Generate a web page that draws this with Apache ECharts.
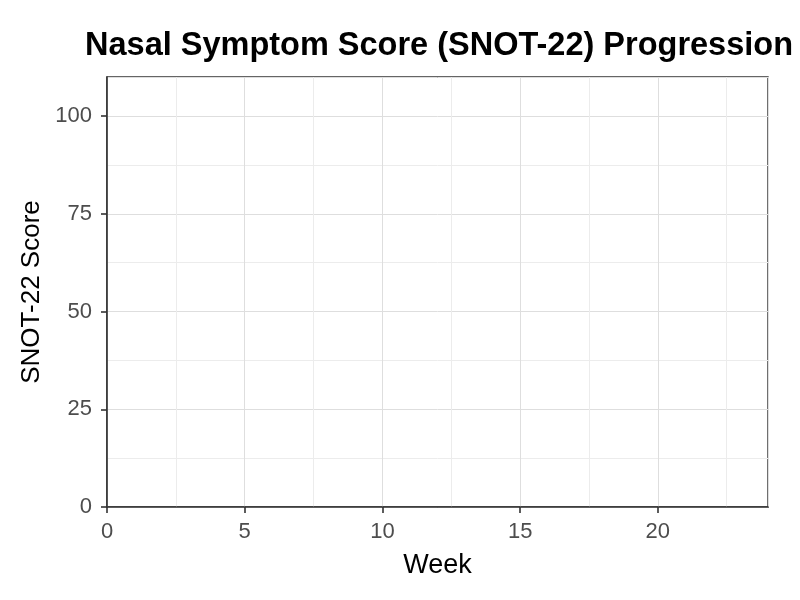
<!DOCTYPE html>
<html>
<head>
<meta charset="utf-8" />
<title>SNOT-22</title>
<script src="https://cdn.jsdelivr.net/npm/echarts@6/dist/echarts.min.js"></script>
</head>
<body style="margin:0">
<div id="main" style="width:800px;height:600px;"></div>
<script type="text/javascript">
// the reference shows an empty panel: no observations plotted
var weeks = [];
var scores = [];
var xTicks = [0, 5, 10, 15, 20];
var yTicks = [0, 25, 50, 75, 100];

var myChart = echarts.init(document.getElementById('main'));
var axisCol = '#333333';
var labelCol = '#4d4d4d';
var font = 'Liberation Sans, Arial, sans-serif';

var points = weeks.map(function (w, i) { return [w, scores[i]]; });

var option = {
  backgroundColor: '#ffffff',
  animation: false,
  title: {
    text: 'Nasal Symptom Score (SNOT-22) Progression',
    left: 434,
    top: 25,
    textAlign: 'center',
    textStyle: { fontFamily: font, fontWeight: 'bold', fontSize: 32.5, color: '#000' }
  },
  grid: {
    left: 107, right: 32, top: 77, bottom: 93,
    show: true, borderColor: axisCol, borderWidth: 1.4, backgroundColor: '#fff'
  },
  xAxis: {
    type: 'value',
    min: 0, max: 24, interval: 5,
    name: 'Week', nameLocation: 'middle', nameGap: 45,
    nameTextStyle: { fontFamily: font, fontSize: 27, color: '#000' },
    axisLine: { show: true, onZero: false, lineStyle: { color: axisCol, width: 1.6 } },
    axisTick: { show: true, length: 6, lineStyle: { color: axisCol, width: 1.6 } },
    axisLabel: {
      fontFamily: font, fontSize: 22, color: labelCol, margin: 14,
      showMaxLabel: false,
      formatter: function (v) { return xTicks.indexOf(v) >= 0 ? String(v) : ''; }
    },
    splitLine: { show: true, lineStyle: { color: '#dedede', width: 1 } },
    minorTick: { show: false, splitNumber: 2 },
    minorSplitLine: { show: true, lineStyle: { color: '#ececec', width: 1 } }
  },
  yAxis: {
    type: 'value',
    min: 0, max: 110, interval: 25,
    name: 'SNOT-22 Score', nameLocation: 'middle', nameGap: 58,
    nameTextStyle: { fontFamily: font, fontSize: 26, color: '#000' },
    axisLine: { show: true, onZero: false, lineStyle: { color: axisCol, width: 1.6 } },
    axisTick: { show: true, length: 6, lineStyle: { color: axisCol, width: 1.6 } },
    axisLabel: {
      fontFamily: font, fontSize: 22, color: labelCol, margin: 15,
      showMaxLabel: false,
      formatter: function (v) { return yTicks.indexOf(v) >= 0 ? String(v) : ''; }
    },
    splitLine: { show: true, lineStyle: { color: '#dedede', width: 1 } },
    minorTick: { show: false, splitNumber: 2 },
    minorSplitLine: { show: true, lineStyle: { color: '#ececec', width: 1 } }
  },
  series: [{
    name: 'SNOT-22',
    type: 'line',
    data: points,
    lineStyle: { color: '#1f77b4', width: 2 },
    symbolSize: 6
  }]
};

myChart.setOption(option);
</script>
</body>
</html>
